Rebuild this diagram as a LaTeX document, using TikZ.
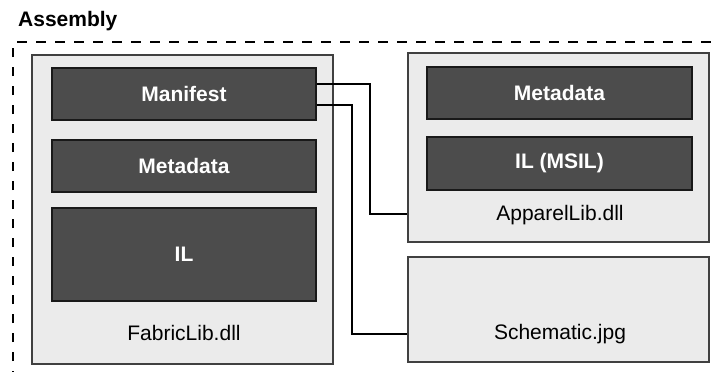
\documentclass[tikz,border=0pt]{standalone}
\usepackage{fontspec}
\setmainfont{Liberation Sans}
\begin{document}
\begin{tikzpicture}[x=1pt,y=-1pt,
  outerbox/.style={draw=black!75,line width=1.3pt,fill=black!8,rectangle,inner sep=0pt},
  darkbox/.style={draw=black!90,line width=1.6pt,fill=black!70,rectangle,inner sep=0pt,
    text=white,font=\fontsize{21}{24}\selectfont\bfseries},
  lbl/.style={inner sep=0pt,font=\fontsize{21}{24}\selectfont},
  conn/.style={draw=black,line width=1.2pt},
  dashframe/.style={draw=black,line width=2pt,dash pattern=on 9.5pt off 9.5pt}]
\useasboundingbox (0,0) rectangle (716,372);
\fill[white] (0,0) rectangle (716,372);
% title
\node[inner sep=0pt,anchor=base west,font=\fontsize{21}{24}\selectfont\bfseries] (title) at (18,27) {Assembly};
% dashed assembly frame (extends past the picture)
\draw[dashframe] (13,380) -- (13,42) -- (730,42);
% FabricLib
\node[outerbox,minimum width=301pt,minimum height=309pt] (fabric) at (182.5,209.5) {};
\node[darkbox,minimum width=264pt,minimum height=52pt] (manifest) at (184,94) {Manifest};
\node[darkbox,minimum width=264pt,minimum height=52pt] (meta1) at (184,166) {Metadata};
\node[darkbox,minimum width=264pt,minimum height=93pt] (il) at (184,254.5) {IL};
\node[lbl] (fabriclbl) at (184,333) {FabricLib.dll};
% ApparelLib
\node[outerbox,minimum width=301pt,minimum height=189pt] (apparel) at (558.5,147.5) {};
\node[darkbox,minimum width=265pt,minimum height=52pt] (meta2) at (559.5,93) {Metadata};
\node[darkbox,minimum width=265pt,minimum height=53pt] (msil) at (559.5,163.5) {IL (MSIL)};
\node[lbl] (apparellbl) at (560,215) {ApparelLib.dll};
% Schematic
\node[outerbox,minimum width=301pt,minimum height=105pt] (schematic) at (558.5,309.5) {};
\node[lbl] (schemlbl) at (560,334) {Schematic.jpg};
% connectors
\draw[conn] (manifest.east |- 0,84) -- (370,84) |- (apparel.west |- 0,214);
\draw[conn] (manifest.east |- 0,105) -- (352,105) |- (schematic.west |- 0,334);
\end{tikzpicture}
\end{document}
